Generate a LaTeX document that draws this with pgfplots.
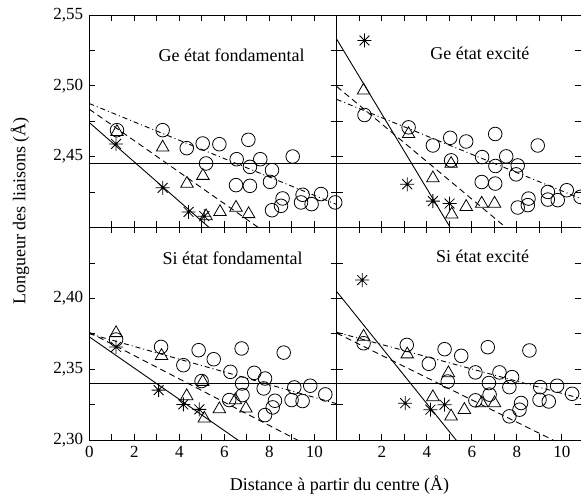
\documentclass[border=0pt]{standalone}
\usepackage{fontspec}
\setmainfont{Liberation Serif}
\usepackage{pgfplots}
\pgfplotsset{compat=1.18}
\pgfdeclareplotmark{star8}{%
  \pgfpathmoveto{\pgfqpoint{0pt}{\pgfplotmarksize}}\pgfpathlineto{\pgfqpoint{0pt}{-\pgfplotmarksize}}%
  \pgfpathmoveto{\pgfqpoint{\pgfplotmarksize}{0pt}}\pgfpathlineto{\pgfqpoint{-\pgfplotmarksize}{0pt}}%
  \pgfpathmoveto{\pgfqpointpolar{45}{\pgfplotmarksize}}\pgfpathlineto{\pgfqpointpolar{225}{\pgfplotmarksize}}%
  \pgfpathmoveto{\pgfqpointpolar{135}{\pgfplotmarksize}}\pgfpathlineto{\pgfqpointpolar{315}{\pgfplotmarksize}}%
  \pgfusepathqstroke}
\pgfplotsset{
  panel/.style={scale only axis, height=212.5pt, anchor=south west,
    tick align=inside, major tick length=6pt, minor tick length=6pt,
    axis line style={line width=0.9pt},
    every tick/.style={black, line width=0.8pt},
    tick label style={font=\fontsize{17}{20}\selectfont, /pgf/number format/assume math mode=true},
    yticklabel style={/pgf/number format/use comma, /pgf/number format/fixed,
      /pgf/number format/fixed zerofill, /pgf/number format/precision=2},
    xticklabel style={/pgf/number format/fixed, /pgf/number format/precision=0},
    xmin=0},
  leftp/.style={width=247.5pt, xmax=11, xtick={0,2,...,10}, minor xtick={1,3,...,9}},
  rightp/.style={width=244.35pt, xmax=10.86, xtick={2,4,...,10}, minor xtick={1,3,...,9}, yticklabels={}},
  topp/.style={ymin=2.40, ymax=2.55, ytick={2.45,2.50,2.55}, minor ytick={2.425,2.475,2.525}, xticklabels={}},
  botp/.style={ymin=2.30, ymax=2.45, ytick={2.30,2.35,2.40}, minor ytick={2.325,2.375,2.425}},
  circ/.style={black, only marks, mark=o, mark size=6.8pt, mark options={line width=0.8pt}},
  tri/.style={black, only marks, mark=triangle, mark size=7.2pt, mark options={line width=0.8pt}},
  ast/.style={black, only marks, mark=star8, mark size=7pt, mark options={line width=0.8pt}},
  fsolid/.style={black, no marks, line width=0.9pt},
  fdash/.style={black, no marks, line width=0.9pt, dash pattern=on 6pt off 4pt},
  fdashdot/.style={black, no marks, line width=0.9pt, dash pattern=on 5pt off 3pt on 1pt off 3pt},
}
\begin{document}
\fontsize{18}{21}\selectfont
\begin{tikzpicture}
\path[use as bounding box] (0,0) rectangle (581pt,494pt);

% Top left: Ge fondamental
\begin{axis}[panel, leftp, topp, at={(89.3pt,266.5pt)}]
\addplot[fsolid] coordinates {(0,2.445) (11,2.445)};
\addplot[fsolid] coordinates {(0,2.4741) (6,2.3906)};
\addplot[fdash] coordinates {(0,2.4835) (8,2.3946)};
\addplot[fdashdot] coordinates {(0,2.4875) (11,2.4162)};
\addplot[circ] coordinates {(1.23,2.4687) (3.26,2.4687) (4.33,2.456) (5.04,2.4593) (5.78,2.4588) (7.07,2.4619) (5.19,2.4452) (6.55,2.4482) (7.14,2.4428) (7.6,2.4482) (8.12,2.4405) (9.04,2.4501) (6.52,2.4299) (7.14,2.4294) (8.03,2.4322) (8.12,2.4122) (8.52,2.4153) (8.59,2.4205) (9.41,2.4177) (9.48,2.4231) (9.88,2.4165) (10.3,2.4236) (10.93,2.4177)};
\addplot[tri] coordinates {(1.23,2.4675) (3.26,2.4565) (4.34,2.431) (5.05,2.4365) (5.19,2.408) (5.81,2.411) (6.52,2.414) (7.08,2.4095)};
\addplot[ast] coordinates {(1.19,2.459) (3.26,2.428) (4.41,2.411) (5.11,2.408)};
\end{axis}

% Top right: Ge excite
\begin{axis}[panel, rightp, topp, at={(336.8pt,266.5pt)}]
\addplot[fsolid] coordinates {(0,2.445) (11,2.445)};
\addplot[fsolid] coordinates {(0,2.5328) (5.3,2.3932)};
\addplot[fdash] coordinates {(0,2.4995) (8,2.3936)};
\addplot[fdashdot] coordinates {(0,2.4904) (10.86,2.4203)};
\addplot[circ] coordinates {(1.23,2.4794) (3.19,2.4707) (4.27,2.4579) (5.04,2.4633) (5.75,2.4607) (7.04,2.466) (8.93,2.4579) (6.46,2.4497) (7.05,2.4434) (7.53,2.4502) (8.04,2.4438) (7.97,2.4375) (5.08,2.4474) (6.44,2.4321) (7.04,2.431) (8.04,2.4141) (8.49,2.4158) (8.52,2.4204) (9.38,2.4197) (9.38,2.4251) (9.82,2.4193) (10.22,2.4263) (10.83,2.4216)};
\addplot[tri] coordinates {(1.19,2.4968) (3.19,2.466) (4.27,2.4348) (5.08,2.445) (5.11,2.4092) (5.75,2.4146) (6.44,2.4169) (7.01,2.4169)};
\addplot[ast] coordinates {(1.23,2.532) (3.13,2.4305) (4.27,2.4186) (5.01,2.4169)};
\end{axis}

% Bottom left: Si fondamental
\begin{axis}[panel, leftp, botp, at={(89.3pt,54pt)}]
\addplot[fsolid] coordinates {(0,2.34) (11,2.34)};
\addplot[fsolid] coordinates {(0,2.3728) (7,2.2956)};
\addplot[fdash] coordinates {(0,2.376) (10,2.2938)};
\addplot[fdashdot] coordinates {(0,2.375) (11,2.3256)};
\addplot[circ] coordinates {(1.19,2.3709) (3.19,2.3657) (4.18,2.3528) (4.86,2.3634) (5.53,2.357) (6.77,2.3646) (8.64,2.3617) (6.27,2.3481) (7.33,2.3474) (7.81,2.3434) (4.99,2.3416) (6.79,2.3399) (7.75,2.3364) (9.11,2.3371) (9.82,2.3383) (10.49,2.3322) (6.22,2.3282) (6.81,2.3317) (8.25,2.3277) (8.15,2.323) (8.99,2.3282) (9.48,2.3275) (7.81,2.3176)};
\addplot[tri] coordinates {(1.19,2.3755) (3.21,2.3594) (4.33,2.331) (5.04,2.3411) (5.11,2.3152) (5.78,2.3218) (6.49,2.3281) (6.96,2.3223)};
\addplot[ast] coordinates {(1.19,2.3657) (3.08,2.3352) (4.18,2.3251) (4.89,2.3216)};
\end{axis}

% Bottom right: Si excite
\begin{axis}[panel, rightp, botp, at={(336.8pt,54pt)}]
\addplot[fsolid] coordinates {(0,2.34) (11,2.34)};
\addplot[fsolid] coordinates {(0,2.4047) (5.6,2.2941)};
\addplot[fdash] coordinates {(0,2.3754) (10,2.2969)};
\addplot[fdashdot] coordinates {(0,2.376) (10.86,2.3292)};
\addplot[circ] coordinates {(1.19,2.3683) (3.11,2.3671) (4.09,2.3538) (4.79,2.3641) (5.53,2.3594) (6.71,2.3655) (8.56,2.3632) (6.16,2.3477) (7.23,2.3477) (7.79,2.3444) (4.93,2.3413) (6.76,2.3402) (7.67,2.3373) (9.04,2.3373) (9.79,2.3383) (10.46,2.3326) (6.16,2.328) (6.79,2.332) (8.19,2.3261) (8.12,2.3214) (9.01,2.3284) (9.42,2.3272) (7.67,2.3167)};
\addplot[tri] coordinates {(1.19,2.373) (3.13,2.3605) (4.27,2.3303) (4.96,2.3472) (5.08,2.3167) (5.67,2.3213) (6.44,2.326) (7.01,2.326)};
\addplot[ast] coordinates {(1.13,2.4129) (3.04,2.326) (4.16,2.3214) (4.79,2.3249)};
\end{axis}

\node[rotate=90] at (20pt,283pt) {Longueur des liaisons (Å)};
\node[anchor=base] at (339.5pt,3.5pt) {Distance à partir du centre (Å)};
\node[anchor=base] at (231.7pt,432.3pt) {Ge état fondamental};
\node[anchor=base] at (479.8pt,434.7pt) {Ge état excité};
\node[anchor=base] at (232.5pt,229pt) {Si état fondamental};
\node[anchor=base] at (482.7pt,231.3pt) {Si état excité};
\end{tikzpicture}
\end{document}
